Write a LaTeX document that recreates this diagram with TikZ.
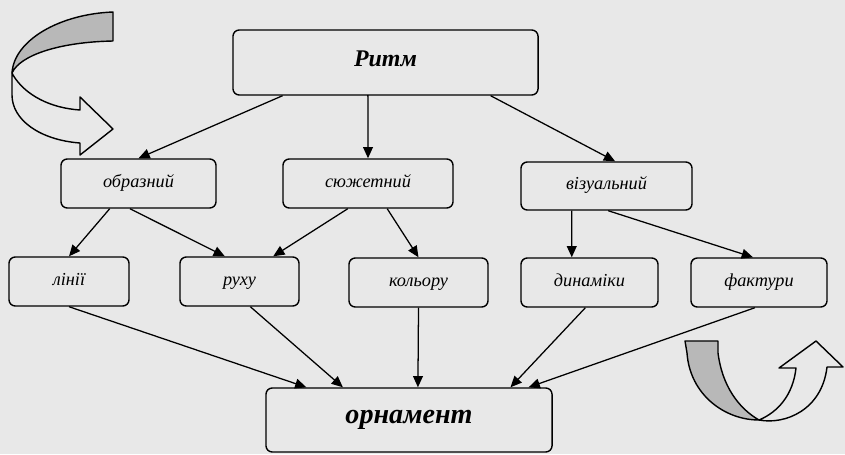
\documentclass[tikz,border=0pt]{standalone}
\usepackage{fontspec}
\setmainfont{Liberation Serif}
\usetikzlibrary{arrows.meta,calc}
\definecolor{papir}{gray}{0.91}
\definecolor{tin}{gray}{0.72}
\tikzset{
  blok/.style={draw, rounded corners=4.5pt, line width=1pt, inner sep=0pt,
    minimum height=1.225cm, text height=1.55ex, text depth=0.45ex,
    font=\itshape\fontsize{13}{15}\selectfont},
  golovnyj/.style={blok, font=\bfseries\itshape\fontsize{17}{19}\selectfont},
  strilka/.style={line width=0.9pt, -{Triangle[length=8pt,width=7pt]}},
  vygyn/.style={line width=1pt, line join=round}
}

\begin{document}
\begin{tikzpicture}[x=0.025cm, y=-0.025cm]
			%%%%% START %%%%%
			
			\fill[papir] (0,0) rectangle (845,454);
			\useasboundingbox (0,0) rectangle (845,454);
			
			\node[golovnyj, minimum width=7.625cm, minimum height=1.625cm] (ritm) at (385.5,62.5) {Ритм};
			
			\node[blok, minimum width=3.875cm] (obraz) at (138.5,183.5) {образний};
			\node[blok, minimum width=4.25cm] (siuzh) at (368,183.5) {сюжетний};
			\node[blok, minimum width=4.275cm, minimum height=1.2cm] (vizual) at (606.5,186) {візуальний};
			
			\node[blok, minimum width=3cm] (linii) at (69,281.5) {лінії};
			\node[blok, minimum width=2.975cm] (rukhu) at (239.5,281.5) {руху};
			\node[blok, minimum width=3.475cm] (kolor) at (418.5,282.5) {кольору};
			\node[blok, minimum width=3.425cm] (dynam) at (589.5,282.5) {динаміки};
			\node[blok, minimum width=3.4cm] (faktur) at (759,282.5) {фактури};
			
			\node[golovnyj, font=\bfseries\itshape\fontsize{20}{22}\selectfont, minimum width=7.15cm, minimum height=1.6cm] (ornam) at (409,420) {орнамент};
			
			% verkhnij riven
			\draw[strilka] ($(ritm.south west)!0.164!(ritm.south east)$) -- (obraz.north);
			\draw[strilka] ($(ritm.south west)!0.44!(ritm.south east)$) -- (ritm.south -| siuzh.north) -- (siuzh.north);
			\draw[strilka] ($(ritm.south west)!0.843!(ritm.south east)$) -- ($(vizual.north west)!0.55!(vizual.north east)$);
			
			% serednij riven
			\draw[strilka] ($(obraz.south west)!0.316!(obraz.south east)$) -- (linii.north);
			\draw[strilka] ($(obraz.south west)!0.445!(obraz.south east)$) -- ($(rukhu.north west)!0.378!(rukhu.north east)$);
			\draw[strilka] ($(siuzh.south west)!0.382!(siuzh.south east)$) -- ($(rukhu.north west)!0.78!(rukhu.north east)$);
			\draw[strilka] ($(siuzh.south west)!0.612!(siuzh.south east)$) -- (kolor.north);
			\draw[strilka] ($(vizual.south west)!0.298!(vizual.south east)$) -- ($(dynam.north west)!0.372!(dynam.north east)$);
			\draw[strilka] ($(vizual.south west)!0.51!(vizual.south east)$) -- ($(faktur.north west)!0.456!(faktur.north east)$);
			
			% do ornamentu
			\draw[strilka] (linii.south) -- ($(ornam.north west)!0.143!(ornam.north east)$);
			\draw[strilka] ($(rukhu.south west)!0.59!(rukhu.south east)$) -- ($(ornam.north west)!0.27!(ornam.north east)$);
			\draw[strilka] (kolor.south) -- ($(ornam.north west)!0.531!(ornam.north east)$);
			\draw[strilka] ($(dynam.south west)!0.47!(dynam.south east)$) -- ($(ornam.north west)!0.853!(ornam.north east)$);
			\draw[strilka] ($(faktur.south west)!0.47!(faktur.south east)$) -- ($(ornam.north west)!0.916!(ornam.north east)$);
			
			% vygnuta strilka zliva
			\draw[vygyn, fill=tin] (113,12) .. controls (60,14) and (14,40) .. (12,73)
			  .. controls (20,55) and (60,42) .. (113,41) -- cycle;
			\draw[vygyn, fill=papir] (12,73) -- (12,95) .. controls (12,120) and (40,140) .. (80,143)
			  -- (80,155) -- (113,129) -- (80,97) -- (80,110)
			  .. controls (50,108) and (25,95) .. (13,75) -- cycle;
			
			% vygnuta strilka sprava
			\draw[vygyn, fill=tin] (685,341) -- (718,341) -- (718,353)
			  .. controls (722,385) and (738,408) .. (759,420)
			  .. controls (725,420) and (690,395) .. (687,353) -- cycle;
			\draw[vygyn, fill=papir] (759,420) .. controls (785,425) and (822,410) .. (827,367)
			  -- (843,367) -- (816,341) -- (779,368) -- (796,368)
			  .. controls (793,395) and (778,412) .. (759,420) -- cycle;
			
			%%%%% END %%%%%
\end{tikzpicture}
\end{document}
